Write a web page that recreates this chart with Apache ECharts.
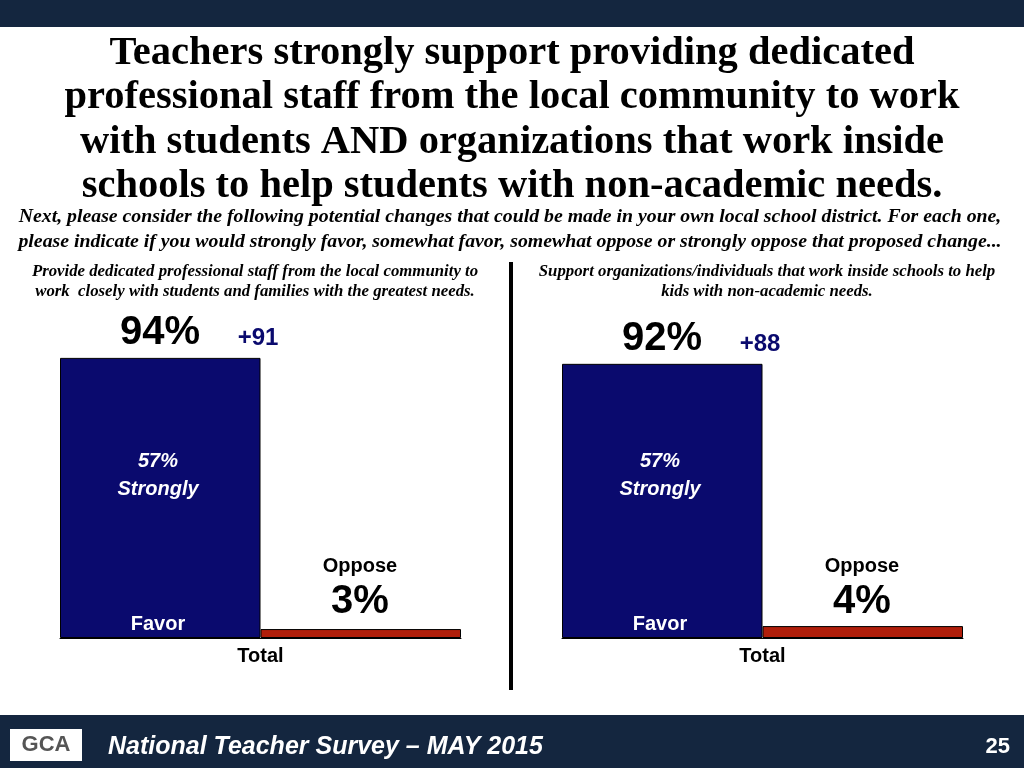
<!DOCTYPE html><html><head><meta charset="utf-8">
<script src="https://cdn.jsdelivr.net/npm/echarts@6/dist/echarts.min.js"></script>
<style>html,body{margin:0;padding:0}#c{width:1024px;height:768px}</style></head><body><div id="c"></div>
<script>
const categories=['Total'];
const favorL=[94], opposeL=[3], strongL=57, netL='+91';
const favorR=[92], opposeR=[4], strongR=57, netR='+88';
const chart=echarts.init(document.getElementById('c'));
const serif='"Liberation Serif","DejaVu Serif",serif', sans='"Liberation Sans",Arial,sans-serif';
const NAVY='#0a0a6e', RED='#b01e0a';
function grids(){return [{left:60,width:401,top:340,height:298},{left:562,width:401,top:340,height:298}];}
const xAxes=[0,1].map(i=>({type:'category',gridIndex:i,data:categories,axisTick:{show:false},
 axisLine:{lineStyle:{color:'#000'}},axisLabel:{color:'#000',fontFamily:sans,fontWeight:'bold',fontSize:20,margin:8}}));
const yAxes=[0,1].map(i=>({type:'value',gridIndex:i,min:0,max:100,show:false}));
function bars(i,f,o){return [
 {type:'bar',xAxisIndex:i,yAxisIndex:i,data:f,barGap:'0%',barCategoryGap:'0%',itemStyle:{color:NAVY,borderColor:'#000',borderWidth:1}},
 {type:'bar',xAxisIndex:i,yAxisIndex:i,data:o,itemStyle:{color:RED,borderColor:'#000',borderWidth:1}}];}
function t(x,y,s,o){return {type:'text',x:x,y:y,z:100,style:Object.assign({text:s,fill:'#000',textAlign:'center',textVerticalAlign:'middle',font:'bold 20px '+sans},o||{})};}
const g=[
 {type:'rect',shape:{x:0,y:0,width:1024,height:27},style:{fill:'#14263f'}},
 {type:'rect',shape:{x:0,y:715,width:1024,height:53},style:{fill:'#14263f'}},
 t(512,120,'Teachers strongly support providing dedicated\nprofessional staff from the local community to work\nwith students AND organizations that work inside\nschools to help students with non-academic needs.',{font:'bold 40.5px '+serif,lineHeight:44.5}),
 t(510,229,'Next, please consider the following potential changes that could be made in your own local school district. For each one,\nplease indicate if you would strongly favor, somewhat favor, somewhat oppose or strongly oppose that proposed change...',{font:'italic bold 19.8px '+serif,lineHeight:25}),
 t(255,282,'Provide dedicated professional staff from the local community to\nwork  closely with students and families with the greatest needs.',{font:'italic bold 16.8px '+serif,lineHeight:20}),
 t(767,282,'Support organizations/individuals that work inside schools to help\nkids with non-academic needs.',{font:'italic bold 16.8px '+serif,lineHeight:20}),
 {type:'rect',shape:{x:509,y:262,width:4,height:428},style:{fill:'#000'}},
 {type:'rect',shape:{x:10,y:729,width:72,height:32},style:{fill:'#fff'}},
 t(46,745,'GCA',{font:'bold 22px '+sans,fill:'#555'}),
 t(108,747,'National Teacher Survey – MAY 2015',{textAlign:'left',font:'italic bold 25px '+sans,fill:'#fff'}),
 t(1010,747,'25',{textAlign:'right',font:'bold 22px '+sans,fill:'#fff'})
];
function ann(x0,f,o,s,net,favTop){
 g.push(t(x0+100,favTop-25,f[0]+'%',{font:'bold 40px '+sans}));
 g.push(t(x0+198,favTop-20,net,{font:'bold 24px '+sans,fill:NAVY}));
 g.push(t(x0+98,475,s+'%\nStrongly',{font:'italic bold 20px '+sans,fill:'#fff',lineHeight:28}));
 g.push(t(x0+98,624,'Favor',{fill:'#fff'}));
 g.push(t(x0+300,566,'Oppose'));
 g.push(t(x0+300,602,o[0]+'%',{font:'bold 40px '+sans}));
}
ann(60,favorL,opposeL,strongL,netL,358);
ann(562,favorR,opposeR,strongR,netR,364);
chart.setOption({animation:false,backgroundColor:'#fff',grid:grids(),xAxis:xAxes,yAxis:yAxes,
 series:[...bars(0,favorL,opposeL),...bars(1,favorR,opposeR)],graphic:g});
</script></body></html>
